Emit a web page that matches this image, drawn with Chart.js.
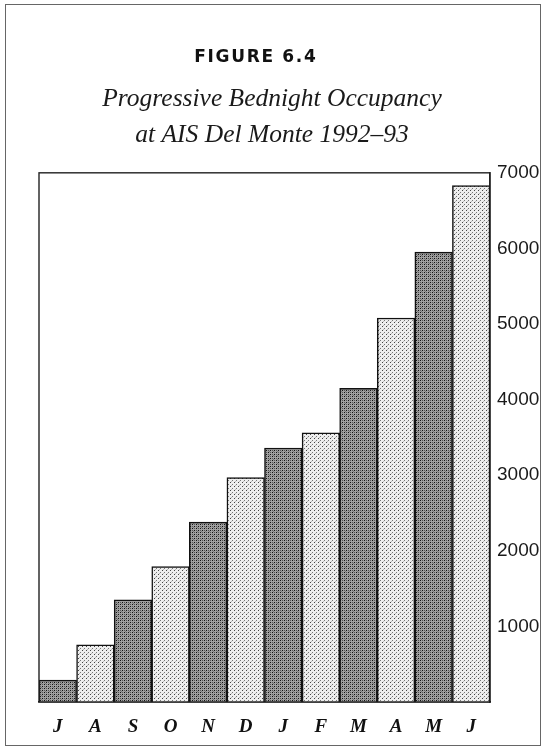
<!DOCTYPE html>
<html>
<head>
<meta charset="utf-8">
<script src="https://cdn.jsdelivr.net/npm/chart.js@4.4.1/dist/chart.umd.min.js"></script>
<style>
  html, body { margin: 0; padding: 0; background: #fff; }
  #wrap { position: relative; width: 544px; height: 749px; }
</style>
</head>
<body>
<div id="wrap"><canvas id="bednightChart"></canvas></div>
<script>
const months = ["J", "A", "S", "O", "N", "D", "J", "F", "M", "A", "M", "J"];
const bednights = [290, 755, 1350, 1790, 2380, 2970, 3360, 3560, 4150, 5080, 5950, 6830];
const yTicks = [1000, 2000, 3000, 4000, 5000, 6000, 7000];

// stippled fills like the printed screen tones
function makePattern(base, dots) {
  const c = document.createElement("canvas");
  c.width = 4;
  c.height = 4;
  const g = c.getContext("2d");
  g.fillStyle = base;
  g.fillRect(0, 0, 4, 4);
  dots.forEach(([x, y, col]) => {
    g.fillStyle = col;
    g.fillRect(x, y, 1, 1);
  });
  return g.createPattern(c, "repeat");
}

const darkTone = makePattern("#a0a0a0", [[0, 0, "#111"], [2, 2, "#111"], [2, 0, "#555"], [0, 2, "#555"], [1, 3, "#777"]]);
const lightTone = makePattern("#eeeeee", [[0, 0, "#777"], [2, 2, "#444"], [3, 1, "#bbb"]]);

const frames = {
  id: "frames",
  beforeDraw(chart) {
    const ctx = chart.ctx;
    ctx.save();
    ctx.strokeStyle = "#666";
    ctx.lineWidth = 1;
    ctx.strokeRect(5.5, 4.5, chart.width - 9, chart.height - 8);
    ctx.restore();
  },
  afterDatasetsDraw(chart) {
    const a = chart.chartArea;
    const ctx = chart.ctx;
    ctx.save();
    ctx.strokeStyle = "#222";
    ctx.lineWidth = 1.4;
    ctx.strokeRect(a.left, a.top, a.right - a.left, a.bottom - a.top);
    ctx.restore();
  },
};

// letter-spaced heading (hair spaces), trailing em spaces nudge it left like the print
const heading = "FIGURE 6.4".split("").join("\u200A") + "\u2003\u2003";

let bednightChart = document.getElementById("bednightChart").getContext("2d");

let chart = new Chart(bednightChart, {
  type: "bar",
  data: {
    labels: months,
    datasets: [
      {
        label: "Bednights",
        data: bednights,
        backgroundColor: (c) => (c.dataIndex % 2 === 0 ? darkTone : lightTone),
        borderColor: "#111",
        borderWidth: 1.5,
        borderSkipped: "start",
        categoryPercentage: 1,
        barPercentage: 1,
      },
    ],
  },
  plugins: [frames],
  options: {
    responsive: true,
    maintainAspectRatio: false,
    animation: false,
    events: [],
    layout: {
      padding: 0,
    },
    plugins: {
      legend: { display: false },
      tooltip: { enabled: false },
      title: {
        display: true,
        text: heading,
        color: "#111",
        font: { family: "DejaVu Sans", size: 17, weight: "bold", lineHeight: 1.2 },
        padding: { top: 47, bottom: 0 },
      },
      subtitle: {
        display: true,
        text: ["Progressive Bednight Occupancy", "at AIS Del Monte 1992–93"],
        color: "#1a1a1a",
        font: { family: "Liberation Serif", size: 25.5, style: "italic", lineHeight: 1.42 },
        padding: { top: 14, bottom: 19 },
      },
    },
    scales: {
      x: {
        grid: { display: false, drawTicks: false },
        border: { display: true, color: "#111", width: 1.5 },
        ticks: {
          color: "#111",
          padding: 14,
          font: { family: "Liberation Serif", size: 19, style: "italic", weight: "bold" },
        },
        afterFit(scale) {
          scale.height = 47;
        },
      },
      // empty left strip, keeps the plot off the page edge
      spacer: {
        axis: "y",
        position: "left",
        display: true,
        grid: { display: false, drawTicks: false },
        border: { display: false },
        ticks: { display: false },
        afterFit(scale) {
          scale.width = 39;
        },
      },
      y: {
        position: "right",
        min: 0,
        max: 7000,
        grid: { display: false, drawTicks: false },
        border: { display: true, color: "#222", width: 1.4 },
        afterBuildTicks(scale) {
          scale.ticks = yTicks.map((v) => ({ value: v }));
        },
        ticks: {
          color: "#1a1a1a",
          padding: 7,
          font: { family: "Liberation Sans", size: 19 },
          callback: (v) => String(v),
        },
        afterFit(scale) {
          scale.width = 54;
        },
      },
    },
  },
});
</script>
</body>
</html>
